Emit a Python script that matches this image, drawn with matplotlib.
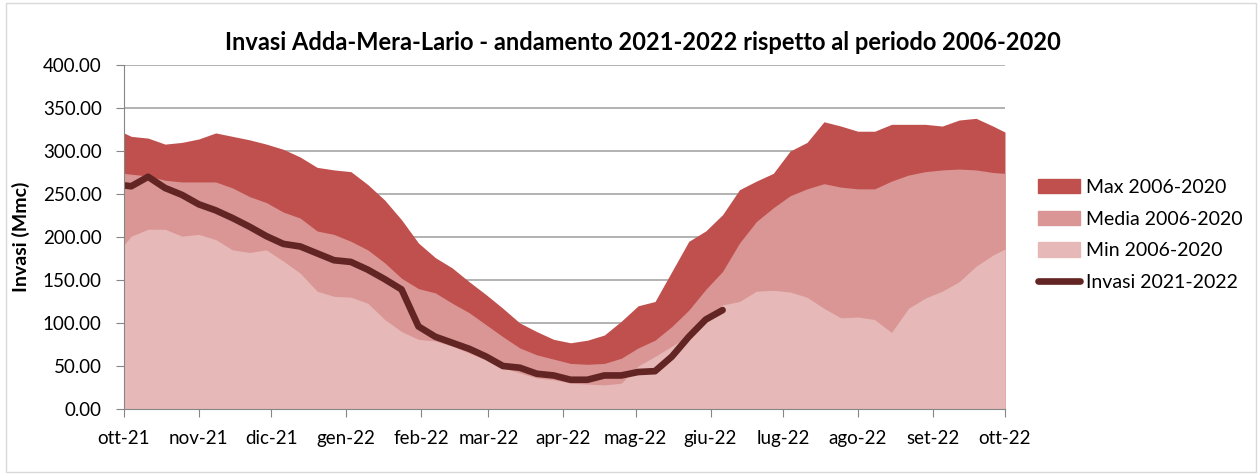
import pandas as pd
import matplotlib
matplotlib.use('Agg')
import matplotlib.pyplot as plt
from matplotlib.patches import Patch, Rectangle
from matplotlib.lines import Line2D

plt.rcParams['font.family'] = ['Lato', 'DejaVu Sans']

# weekly readings (first of October, then every Monday, then end of period)
dates = ([pd.Timestamp('2021-10-01')]
         + list(pd.date_range('2021-10-04', periods=52, freq='7D'))
         + [pd.Timestamp('2022-10-01')])

max_vals = [321, 317, 315, 308, 310, 314, 321, 317, 313, 308,
            302, 293, 281, 278, 276, 261, 243, 220, 193,
            176, 164, 148, 133, 117, 100, 90, 81, 77, 80,
            86, 102, 120, 125, 160, 195, 207, 226,
            255, 265, 274, 300, 310, 334, 329, 323, 323, 331, 331, 331, 329, 336, 338, 329, 322]

media_vals = [274, 273, 271, 266, 264, 264, 264, 257, 247, 240,
              229, 222, 207, 203, 195, 185, 170, 152, 140,
              135, 123, 112, 98, 84, 71, 63, 58, 53, 52,
              53, 59, 71, 80, 96, 115, 139, 160,
              193, 218, 234, 248, 256, 262, 258, 256, 256, 265, 272, 276, 278, 279, 278, 275, 274]

min_vals = [191, 201, 209, 209, 201, 203, 197, 185, 182, 185,
            172, 158, 137, 131, 130, 123, 104, 90, 81,
            79, 73, 65, 57, 48, 42, 36, 34, 30, 29,
            28, 30, 50, 61, 73, 85, 108, 121,
            125, 137, 138, 136, 130, 117, 106, 107, 104, 89, 117, 129, 137, 148, 166, 179, 186]

invasi_vals = [260, 259, 270, 257, 249, 238, 231, 222, 212, 201,
               192, 189, 181, 173, 171, 162, 151, 139, 96,
               84, 77, 70, 61, 50, 48, 41, 39, 34, 34,
               39, 39, 43, 44, 61, 84, 104, 115]

month_labels = ['ott-21', 'nov-21', 'dic-21', 'gen-22', 'feb-22', 'mar-22', 'apr-22',
                'mag-22', 'giu-22', 'lug-22', 'ago-22', 'set-22', 'ott-22']
month_ticks = pd.date_range('2021-10-01', '2022-10-01', freq='MS')

c_max = '#c0504d'
c_media = '#d99694'
c_min = '#e6b9b8'
c_line = '#632523'

fig = plt.figure(figsize=(12.6, 4.75), dpi=100)
ax = fig.add_axes([124/1260, 1 - 409/475, (1005-124)/1260, (409-65)/475])

ax.fill_between(dates, 0, max_vals, color=c_max, lw=0, zorder=2)
ax.fill_between(dates, 0, media_vals, color=c_media, lw=0, zorder=3)
ax.fill_between(dates, 0, min_vals, color=c_min, lw=0, zorder=4)
ax.plot(dates[:len(invasi_vals)], invasi_vals, color=c_line, lw=4.8,
        solid_capstyle='round', solid_joinstyle='round', zorder=5)

ax.set_ylim(0, 400)
ax.set_yticks(range(0, 401, 50))
ax.set_yticklabels(['%.2f' % v for v in range(0, 401, 50)])
ax.set_xlim(pd.Timestamp('2021-10-01'), pd.Timestamp('2022-10-01'))
ax.set_xticks(month_ticks)
ax.set_xticklabels(month_labels)
ax.tick_params(axis='both', labelsize=13.5, colors='#868686', labelcolor='black', length=6)
ax.tick_params(axis='x', pad=9)
ax.tick_params(axis='y', pad=10)

ax.grid(axis='y', color='#a6a6a6', lw=1.2, zorder=1)
ax.set_axisbelow(True)
for s in ['top', 'right']:
    ax.spines[s].set_visible(False)
for s in ['left', 'bottom']:
    ax.spines[s].set_color('#868686')
    ax.spines[s].set_zorder(6)

ax.set_ylabel('Invasi (Mmc)', fontsize=14, fontweight='bold')
ax.yaxis.set_label_coords((30 - 124) / 881, 0.5)
fig.text(0.51, 1 - 43/475, 'Invasi Adda-Mera-Lario - andamento 2021-2022 rispetto al periodo 2006-2020',
         ha='center', va='center', fontsize=17, fontweight='bold')

handles = [Patch(color=c_max), Patch(color=c_media), Patch(color=c_min),
           Line2D([], [], color=c_line, lw=4.8, solid_capstyle='round')]
labels = ['Max 2006-2020', 'Media 2006-2020', 'Min 2006-2020', 'Invasi 2021-2022']
fig.legend(handles, labels, loc='center left', bbox_to_anchor=(1038/1260, 1 - 235/475),
           frameon=False, fontsize=14, handlelength=2.15, handleheight=0.75,
           handletextpad=0.3, labelspacing=0.75, borderaxespad=0, borderpad=0)

fig.patches.append(Rectangle((6/1260, 3/475), 1250/1260, 469/475, transform=fig.transFigure,
                             fill=False, edgecolor='#d9d9d9', lw=1))

plt.savefig('out.png', dpi=100)
